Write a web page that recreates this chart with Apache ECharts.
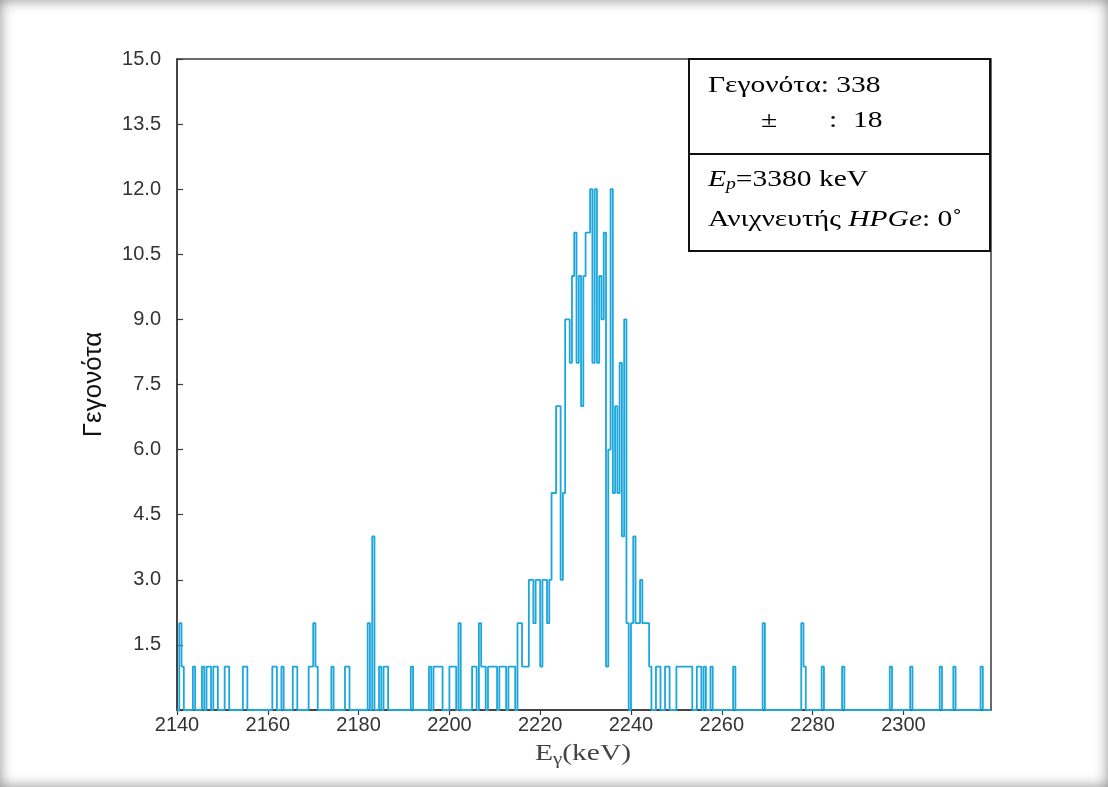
<!DOCTYPE html>
<html>
<head>
<meta charset="utf-8">
<script src="https://cdn.jsdelivr.net/npm/echarts@6/dist/echarts.min.js"></script>
<style>
  html, body { margin: 0; padding: 0; background: #ffffff; }
  #frame { position: relative; width: 1108px; height: 787px; overflow: hidden; }
  #frame::after { content: ''; position: absolute; inset: 0; pointer-events: none;
    box-shadow: inset 0 0 14px rgba(0,0,0,0.45); }
  #chart { width: 1108px; height: 787px; }
</style>
</head>
<body>
<div id="frame"><div id="chart"></div></div>
<script>
// Gamma spectrum around the 2223 keV line, 0.5 keV bins (lower bin edges and counts)
const binWidth = 0.5;
const xStart = 2140;
const xEnd = 2319.3;
const binEdges = [
  2140.5, 2141, 2143.5, 2145.5, 2146.5, 2147, 2148, 2148.5, 2150.5, 2151,
  2154.5, 2155, 2161, 2161.5, 2163, 2165.5, 2166, 2169, 2169.5, 2170, 2170.5,
  2174, 2177, 2177.5, 2182, 2183, 2184.5, 2185.5, 2186, 2191.5,
  2195.5, 2196.5, 2197, 2197.5, 2198, 2200, 2200.5, 2201, 2202,
  2205, 2205.5, 2206.5, 2207, 2207.5, 2208.5, 2209, 2209.5, 2210, 2211, 2211.5,
  2212, 2213, 2213.5, 2214, 2215, 2215.5, 2216, 2216.5, 2217,
  2217.5, 2218, 2218.5, 2219, 2219.5, 2220, 2220.5, 2221, 2221.5, 2222, 2222.5,
  2223, 2223.5, 2224, 2224.5, 2225, 2225.5, 2226, 2226.5, 2227, 2227.5, 2228,
  2228.5, 2229, 2229.5, 2230, 2230.5, 2231, 2231.5, 2232, 2232.5, 2233, 2233.5,
  2234, 2234.5, 2235, 2235.5, 2236, 2236.5, 2237, 2237.5, 2238, 2238.5, 2239,
  2240, 2240.5, 2241, 2241.5, 2242, 2242.5, 2243, 2243.5, 2244,
  2245.5, 2246, 2247.5, 2248, 2250, 2250.5, 2251, 2251.5, 2252, 2252.5, 2253,
  2254.5, 2255, 2256, 2257.5, 2262.5, 2269, 2277.5, 2278, 2282, 2286.5,
  2297, 2301.5, 2308, 2311, 2317
];
const binCounts = [
  2, 1, 1, 1, 1, 1, 1, 1, 1, 1,
  1, 1, 1, 1, 1, 1, 1, 1, 1, 2, 1,
  1, 1, 1, 2, 4, 1, 1, 1, 1,
  1, 1, 1, 1, 1, 1, 1, 1, 2,
  1, 1, 2, 1, 1, 1, 1, 1, 1, 1, 1,
  1, 1, 1, 1, 2, 2, 1, 1, 1,
  3, 3, 2, 3, 3, 1, 3, 3, 2, 3, 5,
  5, 7, 7, 3, 5, 9, 9, 8, 10, 11, 8,
  10, 7, 10, 11, 11, 12, 8, 12, 8, 10, 9,
  11, 1, 6, 12, 5, 7, 5, 8, 4, 9, 2,
  2, 4, 2, 2, 3, 2, 2, 2, 1,
  1, 1, 1, 1, 1, 1, 1, 1, 1, 1, 1,
  1, 1, 1, 1, 1, 2, 2, 1, 1, 1,
  1, 1, 1, 1, 1
];
const yTicks = [0, 1.5, 3.0, 4.5, 6.0, 7.5, 9.0, 10.5, 12.0, 13.5, 15.0];
const xTicks = [2140, 2160, 2180, 2200, 2220, 2240, 2260, 2280, 2300];

// Box contents
const eventsTotal = 338;
const eventsError = 18;
const beamEnergy = 3380;
const detectorAngle = 0;

// Expand the sparse bins into a full step histogram
const nBins = Math.ceil((xEnd - xStart) / binWidth);
const counts = new Array(nBins).fill(0);
binEdges.forEach((e, i) => {
  const k = Math.round((e - xStart) / binWidth);
  if (k >= 0 && k < nBins) counts[k] = binCounts[i];
});
const steps = counts.map((c, k) => [xStart + k * binWidth, c]);
steps.push([xEnd, 0]);

const blue = '#1ba6dc';
const axisColor = '#3a3a3a';
const wide = 1.23;          // horizontal stretch of the serif annotation text
const serif = '"Liberation Serif", "Times New Roman", serif';

function boxText(x, y, text, rich) {
  return {
    type: 'text', x: x, y: y, scaleX: wide, z: 102,
    style: { text: text, rich: rich, font: '24px ' + serif, fill: '#000', verticalAlign: 'middle', align: 'left' }
  };
}
const richIt = {
  i: { font: 'italic 24px ' + serif, fill: '#000' },
  s: { font: 'italic 16px ' + serif, fill: '#000', verticalAlign: 'bottom', padding: [10, 0, 0, 0] },
  n: { font: '24px ' + serif, fill: '#000' }
};

const chart = echarts.init(document.getElementById('chart'), null, { renderer: 'canvas' });

chart.setOption({
  animation: false,
  backgroundColor: 'transparent',
  grid: {
    left: 177, right: 117, top: 59, bottom: 77,
    show: true, borderColor: axisColor, borderWidth: 1.5, backgroundColor: 'transparent'
  },
  xAxis: {
    type: 'value', min: xStart, max: xEnd, interval: 20,
    axisLine: { show: true, lineStyle: { color: axisColor, width: 1.5 } },
    axisTick: { show: true, inside: false, length: 5, lineStyle: { color: axisColor, width: 1.2 } },
    splitLine: { show: false },
    axisLabel: {
      color: '#333', fontFamily: 'Liberation Sans', fontSize: 20, margin: 5,
      showMaxLabel: false,
      formatter: v => (xTicks.indexOf(Math.round(v)) >= 0 && Math.abs(v - Math.round(v)) < 1e-6) ? String(v) : ''
    }
  },
  yAxis: {
    type: 'value', min: 0, max: 15, interval: 1.5,
    axisLine: { show: true, lineStyle: { color: axisColor, width: 1.5 } },
    axisTick: { show: true, inside: true, length: 6, lineStyle: { color: axisColor, width: 1.2 } },
    splitLine: { show: false },
    axisLabel: {
      color: '#333', fontFamily: 'Liberation Sans', fontSize: 20, margin: 16,
      formatter: v => {
        const t = yTicks.find(y => Math.abs(y - v) < 1e-6);
        return (t === undefined || t === 0) ? '' : t.toFixed(1);
      }
    },
    name: 'Γεγονότα', nameLocation: 'middle', nameGap: 70, nameRotate: 90,
    nameTextStyle: { fontFamily: 'Liberation Sans', fontSize: 26, color: '#111' }
  },
  series: [{
    type: 'line', step: 'end', data: steps, showSymbol: false, symbol: 'none',
    lineStyle: { color: blue, width: 1.8 }, clip: true
  }],
  graphic: [
    // x-axis title
    {
      type: 'text', x: 583, y: 754, scaleX: wide, z: 50,
      style: {
        text: '{e|E}{g|γ}{e|(keV)}', align: 'center', verticalAlign: 'middle',
        rich: {
          e: { font: '24px ' + serif, fill: '#444' },
          g: { font: '17px ' + serif, fill: '#444', verticalAlign: 'bottom', padding: [12, 0, 0, 0] }
        }
      }
    },
    // annotation box
    { type: 'rect', shape: { x: 689, y: 59, width: 301, height: 192 },
      style: { fill: '#fff', stroke: '#111', lineWidth: 2 }, z: 100 },
    { type: 'line', shape: { x1: 689, y1: 154, x2: 990, y2: 154 },
      style: { stroke: '#111', lineWidth: 2 }, z: 101 },
    boxText(708, 86, 'Γεγονότα: ' + eventsTotal),
    boxText(761, 121, '±'),
    boxText(829, 121, ':'),
    boxText(853, 121, String(eventsError)),
    boxText(708, 180, '{i|E}{s|p}{n|=' + beamEnergy + ' keV}', richIt),
    boxText(708, 220, '{n|Ανιχνευτής }{i|HPGe}{n|: ' + detectorAngle + '˚}', richIt)
  ]
});
</script>
</body>
</html>
